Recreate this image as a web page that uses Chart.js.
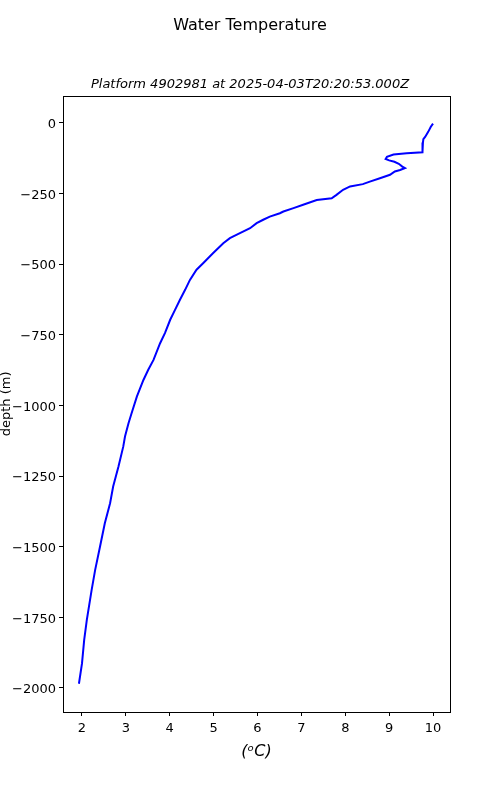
<!DOCTYPE html>
<html>
<head>
<meta charset="utf-8">
<script src="https://cdn.jsdelivr.net/npm/chart.js@4/dist/chart.umd.min.js"></script>
<style>
  html, body { margin: 0; padding: 0; background: #fff; }
  #wrap { width: 500px; height: 800px; }
</style>
</head>
<body>
<div id="wrap"><canvas id="myChart" width="500" height="800"></canvas></div>
<script>
// temperature (degC) and depth (m)
const temps = [10.00, 9.95, 9.89, 9.82, 9.78, 9.77, 9.77, 9.75, 9.40, 9.10, 8.95, 8.92, 9.00, 9.12, 9.22,
  9.30, 9.36, 9.25, 9.13, 9.02, 8.79, 8.56, 8.40, 8.11, 7.95, 7.80, 7.69, 7.35, 7.04, 6.82, 6.59, 6.51,
  6.28, 6.13, 5.98, 5.83, 5.53, 5.37, 5.22, 4.99, 4.76, 4.61, 4.46, 4.35, 4.23, 4.12, 4.01, 3.89, 3.78,
  3.63, 3.51, 3.40, 3.25, 3.13, 3.06, 2.98, 2.94, 2.83, 2.71, 2.64, 2.52, 2.41, 2.30, 2.22, 2.11, 2.05,
  2.00, 1.93];
const depths = [-3, -14, -32, -50, -58, -70, -96, -104, -108, -112, -120, -128, -133, -138, -145,
  -155, -160, -167, -172, -184, -196, -208, -217, -225, -237, -255, -267, -273, -290, -302, -314, -320,
  -332, -343, -355, -373, -396, -408, -426, -461, -497, -520, -556, -591, -627, -662, -697, -744, -780,
  -839, -874, -910, -969, -1028, -1063, -1110, -1146, -1217, -1287, -1346, -1417, -1500, -1582, -1653, -1759, -1830,
  -1913, -1985];

const xTicks = [2, 3, 4, 5, 6, 7, 8, 9, 10];
const yTicks = [0, -250, -500, -750, -1000, -1250, -1500, -1750, -2000];

const mainTitle = "Water Temperature";
const subTitle = "Platform 4902981 at 2025-04-03T20:20:53.000Z";

var points = temps.map((t, i) => ({ x: t, y: depths[i] }));

// marco completo alrededor del area del grafico
const frame = {
  id: "frame",
  afterDraw(chart) {
    const a = chart.chartArea;
    const ctx = chart.ctx;
    ctx.save();
    ctx.strokeStyle = "#000";
    ctx.lineWidth = 1;
    ctx.strokeRect(Math.round(a.left) + 0.5, Math.round(a.top) + 0.5,
      Math.round(a.right - a.left), Math.round(a.bottom - a.top));
    ctx.restore();
  },
};

const font = "DejaVu Sans";

// etiquetas con signo menos tipografico, sin separador de miles
function tickLabel(v) {
  return v < 0 ? "\u2212" + Math.abs(v) : String(v);
}

const ctx = document.getElementById("myChart").getContext("2d");
new Chart(ctx, {
  type: "scatter",
  data: {
    datasets: [
      {
        data: points,
        showLine: true,
        borderColor: "#0000ff",
        borderWidth: 2,
        pointRadius: 0,
        fill: false,
        tension: 0,
      },
    ],
  },
  options: {
    responsive: false,
    animation: false,
    layout: { padding: 0 },
    plugins: {
      legend: { display: false },
      tooltip: { enabled: false },
      title: {
        display: true,
        text: mainTitle,
        color: "#000",
        font: { family: font, size: 16, weight: "normal", lineHeight: 1.2 },
        padding: { top: 16, bottom: 20 },
      },
      subtitle: {
        display: true,
        text: subTitle,
        color: "#000",
        font: { family: font, size: 13, style: "italic", lineHeight: 1.2 },
        padding: { top: 22, bottom: 3 },
      },
    },
    scales: {
      x: {
        type: "linear",
        min: 1.567,
        max: 10.387,
        border: { display: false },
        grid: { drawOnChartArea: false, drawTicks: true, tickLength: 4, tickColor: "#000" },
        ticks: {
          includeBounds: false,
          stepSize: 1,
          color: "#000",
          padding: 5,
          font: { family: font, size: 13 },
          callback: (v) => tickLabel(v),
        },
        afterBuildTicks: (scale) => { scale.ticks = xTicks.map((v) => ({ value: v })); },
        afterFit: (scale) => { scale.height = 88; },
        title: {
          display: true,
          text: "(ᵒC)",
          color: "#000",
          font: { family: font, size: 16, style: "italic", lineHeight: 1.2 },
          padding: { top: 0, bottom: 39 },
        },
      },
      y: {
        type: "linear",
        min: -2085,
        max: 95.6,
        border: { display: false },
        grid: { drawOnChartArea: false, drawTicks: true, tickLength: 4, tickColor: "#000" },
        ticks: {
          includeBounds: false,
          stepSize: 250,
          color: "#000",
          padding: 3,
          labelOffset: 2,
          font: { family: font, size: 13 },
          callback: (v) => tickLabel(v),
        },
        afterBuildTicks: (scale) => { scale.ticks = yTicks.map((v) => ({ value: v })); },
        afterFit: (scale) => { scale.width = 63; },
        title: {
          display: true,
          text: "depth (m)",
          color: "#000",
          font: { family: font, size: 13, lineHeight: 1 },
          padding: { top: 0, bottom: 0 },
        },
      },
      // eje vacio a la derecha solo para reservar el margen
      yRight: {
        type: "linear",
        position: "right",
        display: true,
        min: -2085,
        max: 95.6,
        border: { display: false },
        grid: { display: false },
        ticks: { display: false },
        afterFit: (scale) => { scale.width = 50; },
      },
    },
  },
  plugins: [frame],
});
</script>
</body>
</html>
